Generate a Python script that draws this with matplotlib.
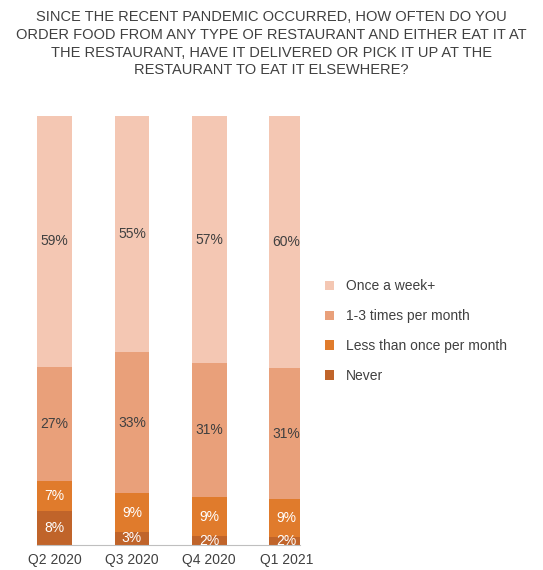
import matplotlib
matplotlib.use("Agg")
import matplotlib.pyplot as plt
import numpy as np

plt.rcParams['font.family'] = ['Liberation Sans', 'DejaVu Sans']

quarters = ["Q2 2020", "Q3 2020", "Q4 2020", "Q1 2021"]
series_names = ["Never", "Less than once per month", "1-3 times per month", "Once a week+"]
never = [8, 3, 2, 2]
less_monthly = [7, 9, 9, 9]
monthly = [27, 33, 31, 31]
weekly = [59, 55, 57, 60]
colors = ["#C0642A", "#E07B2C", "#E9A07A", "#F4C7B3"]
text_colors = ["white", "white", "#404040", "#404040"]

all_series = [never, less_monthly, monthly, weekly]
totals = np.sum(np.array(all_series, dtype=float), axis=0)

fig = plt.figure(figsize=(5.43, 5.70), dpi=100)
ax = fig.add_axes([0.068, 0.044, 0.485, 0.752])
x = np.arange(len(quarters))
bottom = np.zeros(len(quarters))
handles = []
for vals, name, c, tc in zip(all_series, series_names, colors, text_colors):
    raw = np.array(vals, dtype=float)
    v = raw / totals * 100
    b = ax.bar(x, v, bottom=bottom, width=0.45, color=c, label=name)
    handles.append(b)
    for xi, yi, bi, r in zip(x, v, bottom, raw):
        ax.text(xi, bi + yi / 2, f"{int(r)}%", ha="center", va="center",
                fontsize=10, color=tc)
    bottom += v
ax.set_xlim(-0.23, 3.18)
ax.set_ylim(0, 100)
ax.set_xticks(x)
ax.set_xticklabels(quarters, fontsize=10, color="#404040")
ax.set_yticks([])
for s in ["left", "right", "top"]:
    ax.spines[s].set_visible(False)
ax.spines["bottom"].set_color("#BFBFBF")
ax.tick_params(axis="x", length=0, pad=6)

fig.legend(handles[::-1], series_names[::-1], loc="upper left",
           bbox_to_anchor=(0.575, 0.532), frameon=False, fontsize=10,
           handlelength=0.7, handleheight=0.7, labelspacing=1.15,
           labelcolor="#404040")

fig.text(0.5, 0.982,
         "SINCE THE RECENT PANDEMIC OCCURRED, HOW OFTEN DO YOU\n"
         "ORDER FOOD FROM ANY TYPE OF RESTAURANT AND EITHER EAT IT AT\n"
         "THE RESTAURANT, HAVE IT DELIVERED OR PICK IT UP AT THE\n"
         "RESTAURANT TO EAT IT ELSEWHERE?",
         ha="center", va="top", fontsize=10.5, color="#404040", linespacing=1.33)
fig.savefig("out.png", dpi=100)
